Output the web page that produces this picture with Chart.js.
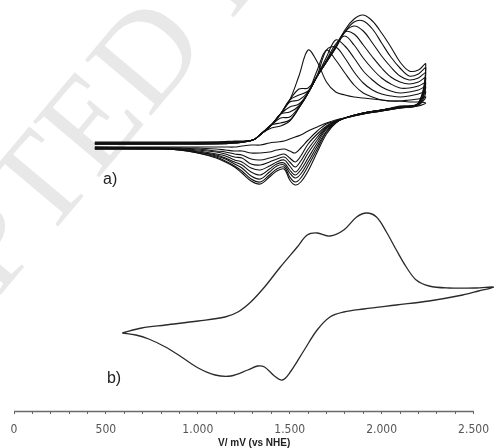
<!DOCTYPE html>
<html>
<head>
<meta charset="utf-8">
<script src="https://cdn.jsdelivr.net/npm/chart.js@4.4.1/dist/chart.umd.min.js"></script>
<style>
  html, body { margin: 0; background: #fff; }
  #wrap { position: relative; width: 499px; height: 448px; }
</style>
</head>
<body>
<div id="wrap"><canvas id="cv"></canvas></div>
<script>
/* ── panel a: repeated cycles, potentials in mV vs NHE ── */
const potentialFwdA = [440, 800, 1100, 1200, 1300, 1350, 1400, 1450, 1500, 1550, 1600, 1650, 1700, 1750, 1800, 1850, 1900, 1950, 2000, 2050, 2100, 2150, 2200, 2240];
const potentialRevA = [2200, 2100, 2000, 1900, 1800, 1750, 1700, 1650, 1600, 1560, 1530, 1500, 1470, 1430, 1390, 1340, 1290, 1240, 1200, 1150, 1100, 1000, 900, 800, 440];

// anodic (forward) currents, one row per cycle
const anodicScans = [
  [0.2,0.2,0.2,0.3,0.6,1.3,2.1,3.2,4.6,7.0,9.6,8.4,6.4,5.4,5.1,4.9,4.8,4.7,4.6,4.5,4.5,4.4,4.4,4.3],
  [0.2,0.2,0.2,0.3,0.6,1.3,1.8,2.0,2.5,3.8,5.3,7.6,9.6,8.6,7.3,6.1,5.3,4.9,4.6,4.5,4.5,4.6,4.7,4.9],
  [0.2,0.2,0.3,0.3,0.6,1.3,2.1,2.3,2.6,3.8,5.3,7.1,9.6,9.9,8.8,7.4,6.3,5.6,5.2,5.0,4.9,5.0,5.2,5.4],
  [0.2,0.2,0.3,0.4,0.6,1.3,2.1,2.8,2.9,3.9,5.3,7.0,8.9,10.6,10.0,8.8,7.5,6.6,5.9,5.5,5.3,5.4,5.6,5.9],
  [0.3,0.3,0.3,0.4,0.6,1.3,2.1,3.2,3.4,4.0,5.3,7.0,8.6,10.2,11.0,10.1,8.8,7.7,6.8,6.2,5.8,5.8,6.0,6.3],
  [0.3,0.3,0.3,0.4,0.6,1.3,2.1,3.2,3.9,4.2,5.3,7.0,8.5,10.0,11.4,11.2,10.1,8.9,7.8,6.9,6.4,6.2,6.4,6.8],
  [0.3,0.3,0.3,0.4,0.6,1.3,2.1,3.2,4.4,4.6,5.4,7.0,8.4,9.9,11.4,12.0,11.5,10.3,9.0,7.9,7.0,6.6,6.8,7.3],
  [0.3,0.3,0.4,0.4,0.6,1.3,2.1,3.2,4.6,5.1,5.5,7.0,8.4,9.8,11.4,12.4,12.5,11.7,10.3,8.9,7.8,7.0,7.2,7.8],
  [0.4,0.4,0.4,0.5,0.6,1.3,2.1,3.2,4.6,5.7,5.8,7.0,8.4,9.8,11.6,12.7,13.1,12.5,11.3,9.9,8.4,7.5,7.6,8.2]
];

// cathodic (reverse) currents, same cycle order
const cathodicScans = [
  [4.0,3.8,3.5,3.2,2.8,2.6,2.3,1.9,1.5,1.1,0.9,0.7,0.5,0.4,0.3,0.1,0.1,0.0,-0.1,-0.1,-0.1,-0.1,-0.1,-0.1,-0.1],
  [4.1,3.8,3.5,3.2,2.8,2.5,2.2,1.5,0.6,-0.2,-0.7,-0.5,-0.3,-0.4,-0.6,-0.7,-0.7,-0.5,-0.5,-0.4,-0.3,-0.2,-0.2,-0.2,-0.1],
  [4.1,3.8,3.5,3.2,2.8,2.5,2.0,1.2,0.2,-1.0,-1.6,-1.2,-0.8,-1.0,-1.2,-1.4,-1.3,-0.9,-0.8,-0.6,-0.5,-0.3,-0.2,-0.2,-0.2],
  [4.2,3.9,3.6,3.3,2.8,2.5,1.9,0.9,-0.3,-1.5,-2.1,-1.6,-1.1,-1.3,-1.6,-1.9,-1.8,-1.2,-1.1,-0.8,-0.6,-0.4,-0.3,-0.2,-0.2],
  [4.2,3.9,3.6,3.3,2.8,2.4,1.8,0.6,-0.7,-2.0,-2.6,-2.0,-1.4,-1.6,-2.0,-2.4,-2.2,-1.6,-1.4,-1.0,-0.8,-0.5,-0.3,-0.2,-0.2],
  [4.2,3.9,3.6,3.3,2.8,2.4,1.7,0.3,-1.2,-2.4,-2.9,-2.4,-1.7,-1.8,-2.3,-2.9,-2.6,-1.9,-1.6,-1.2,-0.9,-0.6,-0.3,-0.3,-0.2],
  [4.2,3.9,3.6,3.3,2.8,2.4,1.5,0.0,-1.6,-2.8,-3.2,-2.7,-1.9,-2.0,-2.6,-3.3,-3.0,-2.2,-1.8,-1.3,-1.0,-0.6,-0.4,-0.3,-0.3],
  [4.3,3.9,3.6,3.3,2.8,2.3,1.4,-0.3,-2.0,-3.2,-3.6,-3.1,-2.1,-2.3,-2.9,-3.6,-3.3,-2.5,-2.0,-1.5,-1.1,-0.7,-0.4,-0.3,-0.3],
  [4.3,4.0,3.6,3.3,2.8,2.3,1.2,-0.6,-2.5,-3.6,-3.9,-3.4,-2.3,-2.5,-3.1,-3.8,-3.5,-2.7,-2.1,-1.6,-1.2,-0.7,-0.4,-0.3,-0.3]
];

/* ── panel b: single cycle ── */
const potentialFwdB = [589, 695, 824, 1002, 1148, 1218, 1288, 1363, 1449, 1541, 1595, 1649, 1719, 1794, 1864, 1918, 1972, 2026, 2080, 2134, 2188, 2258, 2365, 2511, 2608];
const currentFwdB   = [-2.3, -1.8, -1.5, -1.1, -0.7, -0.2, 0.8, 2.3, 4.3, 6.3, 7.5, 7.7, 7.4, 8.0, 9.3, 9.7, 9.3, 7.8, 6.0, 4.3, 3.0, 2.4, 2.2, 2.2, 2.3];
const potentialRevB = [2527, 2441, 2258, 2080, 1902, 1794, 1719, 1649, 1579, 1503, 1460, 1417, 1363, 1325, 1272, 1180, 1094, 1002, 911, 824, 733, 663, 589];
const currentRevB   = [1.9, 1.5, 0.9, 0.5, 0.1, -0.2, -0.7, -2.0, -4.0, -6.2, -7.0, -6.6, -5.7, -5.6, -6.0, -6.6, -6.5, -5.8, -4.7, -3.7, -2.9, -2.5, -2.3];

const xTicksMax = 2500;
const panelLabels = [
  { text: 'a)', mV: 523, i: -3.4, axis: 'ya' },
  { text: 'b)', mV: 544, i: -6.9, axis: 'yb' }
];

const fmtMv = v => v >= 1000 ? Math.floor(v / 1000) + '.' + String(v % 1000).padStart(3, '0') : String(v);
const pts = (xs, ys) => xs.map((x, i) => ({ x, y: ys[i] }));

const datasets = anodicScans.map((fwd, k) => ({
  data: pts(potentialFwdA, fwd).concat(pts(potentialRevA, cathodicScans[k])),
  yAxisID: 'ya', borderColor: '#111', borderWidth: 1.1
}));
datasets.push({
  data: pts(potentialFwdB, currentFwdB).concat(pts(potentialRevB, currentRevB)),
  yAxisID: 'yb', borderColor: '#2a2a2a', borderWidth: 1.3
});

// faint manuscript watermark behind the plot
const watermark = {
  id: 'watermark',
  beforeDatasetsDraw(chart) {
    const ctx = chart.ctx;
    ctx.save();
    ctx.font = "132px 'Liberation Serif', serif";
    ctx.fillStyle = '#e8e8e8';
    ctx.translate(45, 242);
    ctx.rotate(-50 * Math.PI / 180);
    ctx.textBaseline = 'alphabetic';
    ctx.fillText('ACCEPTED MANUSCRIPT', -ctx.measureText('ACCEP').width, 0);
    ctx.restore();
  }
};

const extras = {
  id: 'extras',
  afterDatasetsDraw(chart) {
    const { ctx, scales } = chart;
    const x = scales.x;
    // axis line only spans 0..2500
    ctx.save();
    ctx.strokeStyle = '#6a6a6a';
    ctx.lineWidth = 1.6;
    ctx.beginPath();
    ctx.moveTo(x.getPixelForValue(0), x.top + 0.5);
    ctx.lineTo(x.getPixelForValue(xTicksMax), x.top + 0.5);
    ctx.stroke();
    ctx.fillStyle = '#222';
    ctx.font = "16px 'Liberation Sans Narrow', 'Liberation Sans', sans-serif";
    ctx.textAlign = 'center';
    ctx.textBaseline = 'middle';
    panelLabels.forEach(l => ctx.fillText(l.text, x.getPixelForValue(l.mV), scales[l.axis].getPixelForValue(l.i)));
    ctx.restore();
  }
};

new Chart(document.getElementById('cv'), {
  type: 'scatter',
  data: { datasets },
  options: {
    responsive: true, maintainAspectRatio: false, animation: false,
    layout: { padding: { left: 14, right: 0, top: 0, bottom: 0 } },
    elements: { point: { radius: 0 }, line: { tension: 0.35, fill: false } },
    datasets: { scatter: { showLine: true } },
    plugins: { legend: { display: false }, tooltip: { enabled: false } },
    scales: {
      x: {
        type: 'linear', min: 0, max: 2613,
        afterBuildTicks: s => { s.ticks = s.ticks.filter(t => t.value <= xTicksMax && t.value % 100 === 0); },
        afterFit: s => { s.height = 37; },
        ticks: {
          stepSize: 100, autoSkip: false, maxRotation: 0, padding: 10,
          color: '#555',
          font: { family: "'Liberation Sans Narrow', 'DejaVu Sans Condensed', sans-serif", size: 12, lineHeight: 1 },
          callback: v => v % 500 === 0 ? fmtMv(v) : ''
        },
        grid: { drawOnChartArea: false, drawTicks: true, tickLength: 3, color: '#666', lineWidth: 1 },
        border: { display: false },
        title: {
          display: true, text: 'V/ mV (vs NHE)', color: '#222',
          font: { family: "'Liberation Sans', sans-serif", size: 10, weight: 'bold', lineHeight: 1 },
          padding: { top: 0, bottom: 0 }
        }
      },
      ya: { type: 'linear', display: false, min: -26.5, max: 14.6 },
      yb: { type: 'linear', display: false, min: -10.1, max: 31 }
    }
  },
  plugins: [watermark, extras]
});
</script>
</body>
</html>
